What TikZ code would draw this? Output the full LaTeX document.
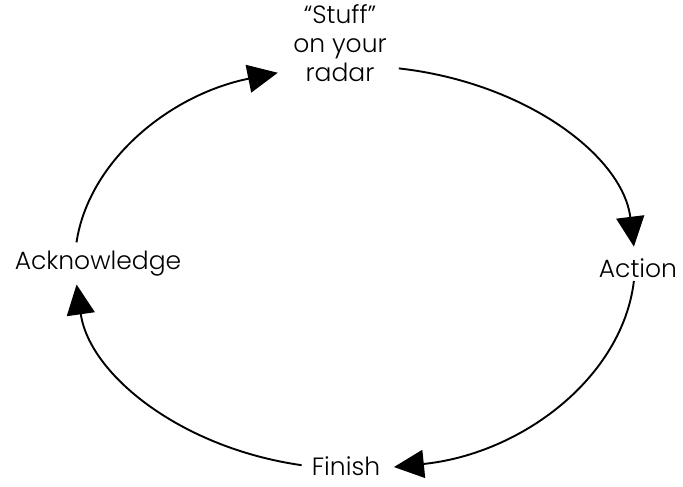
\documentclass[tikz,border=0pt]{standalone}
\usepackage{fontspec}
\setmainfont{Poppins}[UprightFont=* Light]
\usetikzlibrary{arrows.meta, positioning}

\begin{document}
\begin{tikzpicture}[x=1pt, y=1pt,
  cycarrow/.style={-{Triangle[length=30pt, width=28pt]}, line width=1.9pt},
  stage/.style={font=\fontsize{25}{29}\selectfont, inner sep=0pt, align=center}]

\useasboundingbox (0,0) rectangle (683,487);

% Stages of the cycle
\node[stage] (radar) at (340,444) {“Stuff”\\on your\\radar};
\node[stage] (action) at (638,219) {Action};
\node[stage] (finish) at (346,21) {Finish};
\node[stage] (ack) at (98,223) {Acknowledge};

% Arcs round the cycle (one ellipse, centre about (355,224))
\draw[cycarrow] ([shift={(-21.5,21.6)}]ack.center)
  arc[start angle=174, end angle=106, x radius=280, y radius=198];
\draw[cycarrow] ([shift={(58.8,-25.4)}]radar.center)
  arc[start angle=81, end angle=5, x radius=280, y radius=198];
\draw[cycarrow] ([shift={(-4.1,-13)}]action.center)
  arc[start angle=-5, end angle=-82, x radius=280, y radius=206];
\draw[cycarrow] ([shift={(-44.4,0.8)}]finish.center)
  arc[start angle=-101, end angle=-174, x radius=280, y radius=206];

\end{tikzpicture}
\end{document}
